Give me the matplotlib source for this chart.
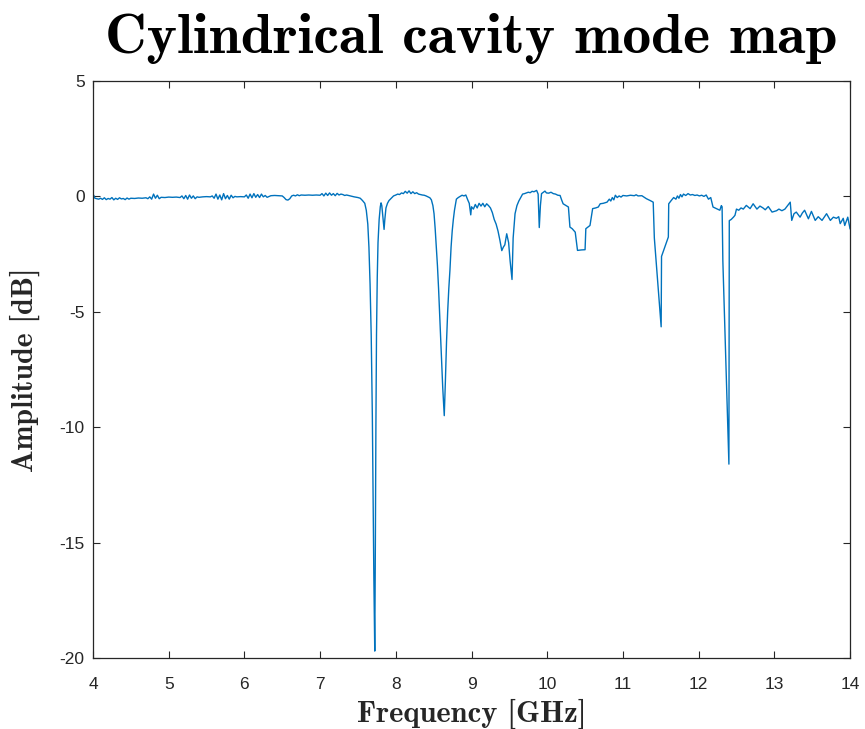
import matplotlib
matplotlib.use("Agg")
import matplotlib.pyplot as plt

# ---- data ----
freq_base = [4.00, 4.01, 4.025, 4.05, 4.075, 4.10, 4.125, 4.15, 4.175, 4.20, 4.225, 4.25, 4.275, 4.30,
             4.325, 4.35, 4.375, 4.40, 4.425, 4.45, 4.475, 4.50, 4.55, 4.60, 4.65, 4.70, 4.725, 4.75,
             4.775, 4.80, 4.825, 4.85, 4.875, 4.90, 4.95, 5.00, 5.05, 5.10, 5.15, 5.175, 5.20, 5.225,
             5.25, 5.275, 5.30, 5.325, 5.35, 5.375, 5.40, 5.45, 5.50, 5.55, 5.575, 5.60, 5.625, 5.65,
             5.675, 5.70, 5.725, 5.75, 5.775, 5.80, 5.825, 5.85, 5.875, 5.90, 5.95, 6.00, 6.025, 6.05,
             6.075, 6.10, 6.125, 6.15, 6.175, 6.20, 6.225, 6.25, 6.275, 6.30, 6.35, 6.40, 6.45, 6.50,
             6.525, 6.55, 6.575, 6.60, 6.625, 6.65, 6.675, 6.70, 6.725, 6.75, 6.80, 6.85, 6.90, 6.95,
             7.00, 7.025, 7.05, 7.075, 7.10, 7.125, 7.15, 7.175, 7.20, 7.225, 7.25, 7.275, 7.30, 7.325,
             7.35, 7.40, 7.45, 7.50]
amp_base = [-0.05, 0.05, -0.08, -0.10, -0.12, -0.08, -0.13, -0.06, -0.14, -0.09, -0.12, -0.05, -0.15, -0.08,
            -0.13, -0.06, -0.11, -0.09, -0.14, -0.07, -0.12, -0.08, -0.09, -0.07, -0.08, -0.06, -0.10, -0.02,
            -0.12, 0.10, -0.08, 0.05, -0.10, -0.04, -0.05, -0.03, -0.04, -0.03, -0.05, 0.02, -0.10, 0.04,
            -0.12, 0.06, -0.08, 0.02, -0.10, -0.02, -0.04, -0.02, -0.01, -0.02, 0.02, -0.08, 0.10, -0.12,
            0.06, -0.15, 0.12, -0.10, 0.04, -0.12, 0.05, -0.06, 0.00, -0.02, -0.01, -0.02, 0.06, -0.08,
            0.10, -0.06, 0.12, -0.04, 0.08, -0.05, 0.10, -0.02, 0.04, -0.04, 0.03, 0.04, 0.03, 0.02,
            -0.05, -0.14, -0.16, -0.10, 0.02, 0.05, 0.02, 0.07, 0.03, 0.06, 0.05, 0.06, 0.05, 0.06,
            0.05, 0.12, 0.02, 0.14, 0.04, 0.15, 0.05, 0.12, 0.03, 0.13, 0.06, 0.10, 0.08, 0.04,
            0.06, 0.02, -0.02, -0.05]

freq_modes = [7.53, 7.56, 7.59, 7.61, 7.63, 7.645, 7.66, 7.675, 7.69, 7.70, 7.71, 7.722, 7.73, 7.737,
              7.745, 7.755, 7.765, 7.78, 7.795, 7.805, 7.815, 7.83, 7.845, 7.855, 7.87, 7.89, 7.91, 7.94,
              7.97, 8.00, 8.025, 8.05, 8.075, 8.10, 8.125, 8.15, 8.175, 8.20, 8.225, 8.25, 8.275, 8.30,
              8.325, 8.35, 8.375, 8.40, 8.425, 8.45, 8.47, 8.49, 8.505, 8.52, 8.535, 8.55, 8.565, 8.58,
              8.60, 8.62, 8.64, 8.655, 8.67, 8.685, 8.70, 8.715, 8.73, 8.745, 8.76, 8.775, 8.79, 8.80,
              8.825, 8.85, 8.875, 8.90, 8.925, 8.95, 8.97, 8.99, 9.00, 9.025, 9.05, 9.075, 9.10, 9.125,
              9.15, 9.175, 9.20, 9.225, 9.25, 9.275, 9.30, 9.325, 9.35, 9.375, 9.40, 9.42, 9.44, 9.465,
              9.49, 9.51, 9.535, 9.55, 9.575, 9.60, 9.625, 9.65, 9.675, 9.70, 9.725, 9.75, 9.775, 9.80,
              9.825, 9.86, 9.88, 9.895, 9.91, 9.925, 9.95, 9.97, 9.99, 10.02, 10.05, 10.08, 10.11, 10.14,
              10.17, 10.19, 10.21, 10.25, 10.28, 10.30, 10.33, 10.37, 10.40, 10.45, 10.50, 10.51, 10.565,
              10.60, 10.64, 10.675, 10.70, 10.74, 10.79, 10.82, 10.84, 10.86, 10.88, 10.90, 10.925, 10.95,
              10.975, 11.00, 11.05, 11.10, 11.15, 11.175, 11.20, 11.25, 11.31, 11.36, 11.40, 11.415,
              11.505, 11.51, 11.60, 11.605, 11.64, 11.67, 11.70, 11.72, 11.74, 11.76, 11.78, 11.80, 11.83,
              11.86, 11.89, 11.92, 11.95, 11.98, 12.01, 12.04, 12.07, 12.10, 12.13, 12.16, 12.19, 12.25,
              12.28, 12.30, 12.31, 12.32, 12.36, 12.40, 12.405, 12.43, 12.46, 12.48, 12.50, 12.53, 12.56,
              12.59, 12.63, 12.68, 12.72, 12.77, 12.81, 12.85, 12.88, 12.92, 12.97, 13.03, 13.06, 13.10,
              13.14, 13.21, 13.23, 13.26, 13.29, 13.34, 13.37, 13.40, 13.45, 13.49, 13.54, 13.58, 13.63,
              13.69, 13.74, 13.78, 13.82, 13.85, 13.87, 13.91, 13.93, 13.97, 14.00]
amp_modes = [-0.08, -0.18, -0.30, -0.6, -1.2, -2.2, -3.8, -6.0, -9.5, -13.0, -16.5, -19.7, -15.0, -10.0,
             -6.0, -3.5, -2.0, -1.0, -0.45, -0.28, -0.4, -0.9, -1.43, -1.0, -0.5, -0.3, -0.18, -0.08,
             0.02, 0.06, 0.10, 0.08, 0.15, 0.12, 0.22, 0.14, 0.24, 0.12, 0.20, 0.12, 0.16, 0.10,
             0.08, 0.06, 0.05, 0.02, -0.02, -0.06, -0.15, -0.40, -0.75, -1.4, -2.2, -3.0, -4.0, -5.2,
             -6.8, -8.3, -9.5, -8.0, -6.3, -5.0, -4.0, -3.2, -2.2, -1.5, -1.0, -0.6, -0.3, -0.12,
             -0.05, 0.00, 0.05, 0.02, 0.06, -0.15, -0.30, -0.8, -0.45, -0.55, -0.35, -0.50, -0.30, -0.42,
             -0.30, -0.45, -0.32, -0.40, -0.50, -0.70, -1.0, -1.2, -1.5, -1.9, -2.35, -2.2, -2.1, -1.62,
             -2.0, -2.8, -3.6, -1.8, -0.75, -0.4, -0.2, -0.05, 0.10, 0.12, 0.15, 0.18, 0.16, 0.22,
             0.20, 0.26, 0.10, -1.35, -0.4, 0.12, 0.18, 0.23, 0.15, 0.14, 0.18, 0.12, 0.10, 0.05,
             0.04, -0.15, -0.32, -0.40, -0.46, -1.33, -1.40, -1.55, -2.34, -2.32, -2.31, -1.40, -1.26,
             -0.53, -0.50, -0.46, -0.32, -0.30, -0.25, -0.12, -0.20, -0.05, -0.15, 0.05, -0.05, 0.02,
             -0.03, 0.04, 0.02, 0.05, 0.03, 0.07, 0.02, 0.03, -0.10, -0.18, -0.25, -1.8,
             -5.65, -2.6, -1.76, -0.32, -0.17, -0.05, -0.12, 0.02, -0.08, 0.08, -0.02, 0.10, 0.04,
             0.12, 0.06, 0.08, 0.04, 0.06, 0.02, 0.05, 0.00, 0.06, -0.12, -0.05, -0.46, -0.55,
             -0.60, -0.40, -0.45, -2.8, -7.2, -11.6, -1.05, -1.0, -0.90, -0.82, -0.55, -0.60, -0.50,
             -0.55, -0.39, -0.53, -0.32, -0.55, -0.42, -0.50, -0.58, -0.44, -0.68, -0.62, -0.55, -0.62,
             -0.55, -0.25, -1.04, -0.75, -0.68, -0.90, -0.72, -0.60, -0.97, -0.65, -1.04, -0.88, -1.04,
             -0.75, -1.04, -0.90, -0.95, -0.88, -1.18, -0.95, -1.26, -0.90, -1.40]

x_ticks = [4, 5, 6, 7, 8, 9, 10, 11, 12, 13, 14]
y_ticks = [-20, -15, -10, -5, 0, 5]
title_text = "Cylindrical cavity mode map"
xlabel_text = "Frequency [GHz]"
ylabel_text = "Amplitude [dB]"

plt.rcParams['axes.unicode_minus'] = False

freq = freq_base + freq_modes
amp = amp_base + amp_modes

fig = plt.figure(figsize=(8.65, 7.29), dpi=100)
ax = fig.add_axes([0.1075, 0.0974, 0.8752, 0.7915])
ax.plot(freq, amp, color='#0072BD', linewidth=1.0)

ax.set_xlim(4, 14)
ax.set_ylim(-20, 5)
ax.set_xticks(x_ticks)
ax.set_yticks(y_ticks)
ax.set_xticklabels([str(t) for t in x_ticks])
ax.set_yticklabels([str(t) for t in y_ticks])

ax.tick_params(axis='both', direction='in', length=5, width=0.8, colors='#262626',
               top=True, right=True, labelsize=12.5)
ax.tick_params(axis='x', pad=13.5)
ax.tick_params(axis='y', pad=6)
for lab in ax.get_xticklabels() + ax.get_yticklabels():
    lab.set_fontfamily(['Liberation Sans', 'DejaVu Sans'])
    lab.set_color('#262626')
for sp in ax.spines.values():
    sp.set_color('#262626')
    sp.set_linewidth(0.9)

serif_bold = ['cmb10', 'DejaVu Serif']
ax.set_title(title_text, family=serif_bold, fontsize=41.5, color='black', pad=20)
ax.set_xlabel(xlabel_text, family=serif_bold, fontsize=22, color='#262626', labelpad=5)
ax.set_ylabel(ylabel_text, family=serif_bold, fontsize=21.5, color='#262626', labelpad=14)

fig.savefig('out.png', dpi=100, facecolor='white')
